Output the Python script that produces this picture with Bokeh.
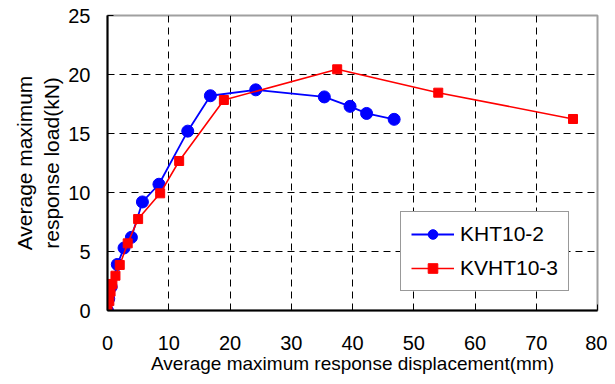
from bokeh.plotting import figure
from bokeh.models import Range1d, Legend, LegendItem, FixedTicker
from bokeh.embed import file_html
from bokeh.resources import INLINE

# Data
kht_x = [0, 0.2, 0.6, 1.6, 2.7, 3.9, 5.7, 8.4, 13.1, 16.8, 24.2, 35.4, 39.6, 42.3, 46.8]
kht_y = [0, 1.0, 2.0, 3.9, 5.3, 6.2, 9.2, 10.7, 15.2, 18.2, 18.7, 18.1, 17.3, 16.7, 16.2]

kvht_x = [0, 0.3, 0.5, 0.8, 1.3, 2.0, 3.3, 5.0, 8.6, 11.7, 19.0, 37.5, 54.0, 76.0]
kvht_y = [0, 0.8, 1.6, 2.25, 2.95, 3.86, 5.69, 7.75, 9.93, 12.67, 17.84, 20.44, 18.46, 16.23]

x_ticks = [0, 10, 20, 30, 40, 50, 60, 70, 80]
y_ticks = [0, 5, 10, 15, 20, 25]

FONT = "Liberation Sans"

p = figure(width=607, height=376, output_backend="svg", toolbar_location=None,
           x_range=Range1d(0, 80), y_range=Range1d(0, 25),
           min_border_left=107, min_border_right=10, min_border_top=15, min_border_bottom=65)

p.background_fill_color = "white"
p.border_fill_color = "white"
p.outline_line_color = "#a0a0a0"
p.outline_line_width = 2

for ax in (p.xaxis[0], p.yaxis[0]):
    ax.axis_line_color = "black"
    ax.axis_line_width = 2
    ax.major_tick_in = 6
    ax.major_tick_out = 0
    ax.minor_tick_line_color = None
    ax.major_tick_line_color = "black"
    ax.major_label_text_font = FONT
    ax.major_label_text_font_size = "20px"
    ax.major_label_text_color = "black"
    ax.axis_label_text_font = FONT
    ax.axis_label_text_font_style = "normal"
    ax.axis_label_text_color = "black"

p.xaxis.ticker = FixedTicker(ticks=x_ticks)
p.yaxis.ticker = FixedTicker(ticks=y_ticks)

p.xaxis.axis_label = "Average maximum response displacement(mm)"
p.xaxis.axis_label_text_font_size = "19px"
p.xaxis.major_label_standoff = 25
p.xaxis.axis_label_standoff = 0

p.yaxis.axis_label = "Average maximum\nresponse load(kN)"
p.yaxis.axis_label_text_font_size = "21px"
p.yaxis.major_label_standoff = 17
p.yaxis.axis_label_standoff = 2

for g in (p.xgrid[0], p.ygrid[0]):
    g.grid_line_color = "black"
    g.grid_line_dash = "7 5"
    g.grid_line_width = 1

l1 = p.line(kht_x, kht_y, line_color="#0000ff", line_width=1.8)
s1 = p.scatter(kht_x, kht_y, marker="circle", size=12, fill_color="#0000ff", line_color="#0000ff")
l2 = p.line(kvht_x, kvht_y, line_color="#ff0000", line_width=1.6)
s2 = p.scatter(kvht_x, kvht_y, marker="square", size=9, fill_color="#ff0000", line_color="#ff0000")

legend = Legend(items=[LegendItem(label="KHT10-2", renderers=[l1, s1]),
                       LegendItem(label="KVHT10-3", renderers=[l2, s2])],
                location=(293, 19))
legend.label_text_font = FONT
legend.label_text_font_size = "21px"
legend.label_text_color = "black"
legend.glyph_width = 43
legend.glyph_height = 24
legend.label_height = 24
legend.label_standoff = 6
legend.spacing = 10
legend.padding = 10
legend.margin = 0
legend.border_line_color = "#333333"
legend.border_line_width = 1
legend.background_fill_color = "white"
legend.background_fill_alpha = 1
p.add_layout(legend)

open("out.html", "w").write(file_html(p, INLINE))
